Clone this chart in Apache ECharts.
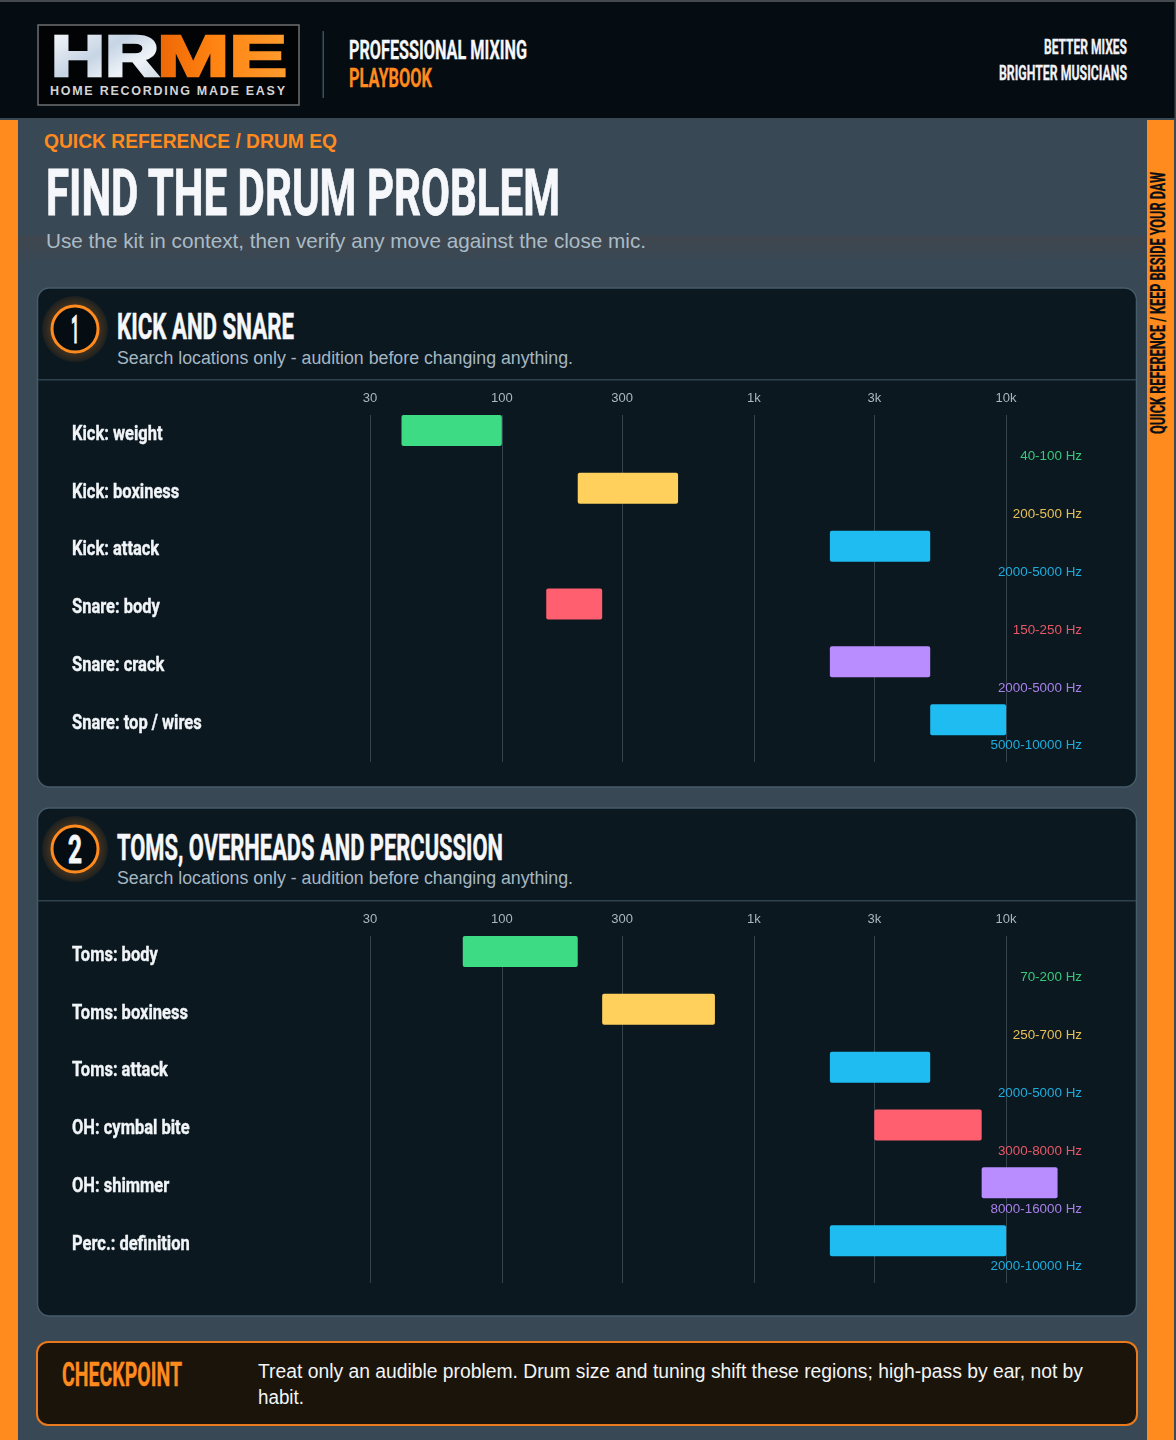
<!DOCTYPE html>
<html><head><meta charset="utf-8">
<style>
html,body{margin:0;padding:0;background:#384854;}
#page{position:relative;width:1176px;height:1440px;overflow:hidden;}
#art{position:absolute;left:0;top:0;}
#chart{position:absolute;left:0;top:0;width:1176px;height:1440px;}
.narrow{font-family:Roboto,"Liberation Sans",sans-serif;font-weight:700;}
.sans{font-family:"Liberation Sans",sans-serif;}
</style></head><body>
<div id="page">
<svg id="art" width="1176" height="1440" viewBox="0 0 1176 1440" xmlns="http://www.w3.org/2000/svg">
<defs>
<linearGradient id="band" x1="0" y1="0" x2="0" y2="1"><stop offset="0" stop-color="#40464e"/><stop offset="1" stop-color="#384854"/></linearGradient>
<linearGradient id="silver" x1="0" y1="0" x2="1" y2="1"><stop offset="0" stop-color="#ffffff"/><stop offset=".45" stop-color="#c6d4e4"/><stop offset=".7" stop-color="#eef3f8"/><stop offset="1" stop-color="#c9d3de"/></linearGradient>
<linearGradient id="fire" x1="0" y1="0" x2="1" y2="0"><stop offset="0" stop-color="#ee6606"/><stop offset=".45" stop-color="#ff8412"/><stop offset="1" stop-color="#ff9c2e"/></linearGradient>
<radialGradient id="glow"><stop offset=".65" stop-color="#ff8a1e" stop-opacity=".26"/><stop offset="1" stop-color="#ff8a1e" stop-opacity=".07"/></radialGradient>
</defs>
<rect width="1176" height="1440" fill="#384854"/>
<rect x="18" y="236" width="1129" height="26" fill="url(#band)"/>
<rect width="1176" height="118" fill="#050c12"/>
<rect width="1176" height="2" fill="#45494d"/>
<rect x="1174.500" width="1.500" height="1440" fill="#45494d"/>
<rect y="120" width="18" height="1320" fill="#ff8a1e"/>
<rect x="1147" y="120" width="27" height="1320" fill="#ff8a1e"/>

<rect x="38" y="25" width="261" height="80" fill="#020304" stroke="#6d6f71" stroke-width="1.500"/>
<text class="sans" x="51" y="76" font-size="57" font-weight="700" fill="url(#silver)" stroke="url(#silver)" stroke-width="2.500" textLength="108" lengthAdjust="spacingAndGlyphs">HR</text>
<text class="sans" x="157" y="76" font-size="57" font-weight="700" fill="url(#fire)" stroke="url(#fire)" stroke-width="2.500" textLength="130" lengthAdjust="spacingAndGlyphs">ME</text>
<text class="sans" x="50" y="95" font-size="12.500" font-weight="700" fill="#d4d4d4" textLength="235">HOME RECORDING MADE EASY</text>
<rect x="322.500" y="31" width="1.500" height="67" fill="#35505f"/>
<text class="narrow" x="349" y="59" font-size="26" fill="#f5f7fa" stroke="#f5f7fa" stroke-width=".3" textLength="178" lengthAdjust="spacingAndGlyphs">PROFESSIONAL MIXING</text>
<text class="narrow" x="349" y="87" font-size="26" fill="#ff8a1e" stroke="#ff8a1e" stroke-width=".3" textLength="83" lengthAdjust="spacingAndGlyphs">PLAYBOOK</text>
<text class="narrow" x="1044" y="54" font-size="21" fill="#f0f2f5" stroke="#f0f2f5" stroke-width=".3" textLength="83" lengthAdjust="spacingAndGlyphs">BETTER MIXES</text>
<text class="narrow" x="999" y="80" font-size="21" fill="#f0f2f5" stroke="#f0f2f5" stroke-width=".3" textLength="128" lengthAdjust="spacingAndGlyphs">BRIGHTER MUSICIANS</text>

<text class="sans" x="44" y="148" font-size="20" font-weight="700" fill="#ff8a1e" textLength="293" lengthAdjust="spacingAndGlyphs">QUICK REFERENCE / DRUM EQ</text>
<text class="narrow" x="46" y="215" font-size="64" fill="#f5f7fa" stroke="#f5f7fa" stroke-width=".8" textLength="514" lengthAdjust="spacingAndGlyphs">FIND THE DRUM PROBLEM</text>
<text class="sans" x="46" y="248" font-size="21" fill="#a8bcc8" textLength="600" lengthAdjust="spacingAndGlyphs">Use the kit in context, then verify any move against the close mic.</text>
<text class="narrow" transform="translate(1165 434) rotate(-90)" font-size="20" fill="#0a0f14" stroke="#0a0f14" stroke-width=".3" textLength="262" lengthAdjust="spacingAndGlyphs">QUICK REFERENCE / KEEP BESIDE YOUR DAW</text>

<rect x="37.500" y="288" width="1099" height="499" rx="12" fill="#0b1820" stroke="#465b69" stroke-width="1.500"/>
<rect x="38" y="379" width="1098" height="1.500" fill="#2f4250"/>
<circle cx="75" cy="329" r="33" fill="url(#glow)"/>
<circle cx="75" cy="329" r="23" fill="#050c12" stroke="#ff8a1e" stroke-width="3"/>
<text class="narrow" x="75" y="343" font-size="38" fill="#f5f7fa" stroke="#f5f7fa" stroke-width=".8" text-anchor="middle" textLength="8" lengthAdjust="spacingAndGlyphs">1</text>
<text class="narrow" x="117" y="339" font-size="36" fill="#f5f7fa" stroke="#f5f7fa" stroke-width=".5" textLength="177" lengthAdjust="spacingAndGlyphs">KICK AND SNARE</text>
<text class="sans" x="117" y="364" font-size="18" fill="#a5b6c2" textLength="456" lengthAdjust="spacingAndGlyphs">Search locations only - audition before changing anything.</text>

<rect x="37.500" y="808" width="1099" height="508" rx="12" fill="#0b1820" stroke="#465b69" stroke-width="1.500"/>
<rect x="38" y="900" width="1098" height="1.500" fill="#2f4250"/>
<circle cx="75" cy="849" r="33" fill="url(#glow)"/>
<circle cx="75" cy="849" r="23" fill="#050c12" stroke="#ff8a1e" stroke-width="3"/>
<text class="narrow" x="75" y="863" font-size="38" fill="#f5f7fa" stroke="#f5f7fa" stroke-width=".8" text-anchor="middle" textLength="14" lengthAdjust="spacingAndGlyphs">2</text>
<text class="narrow" x="117" y="860" font-size="36" fill="#f5f7fa" stroke="#f5f7fa" stroke-width=".5" textLength="386" lengthAdjust="spacingAndGlyphs">TOMS, OVERHEADS AND PERCUSSION</text>
<text class="sans" x="117" y="884" font-size="18" fill="#a5b6c2" textLength="456" lengthAdjust="spacingAndGlyphs">Search locations only - audition before changing anything.</text>

<rect x="37" y="1342" width="1100" height="83" rx="11" fill="#1a140a" stroke="#e8791c" stroke-width="2"/>
<text class="narrow" x="62" y="1386" font-size="33" fill="#ff8a1e" stroke="#ff8a1e" stroke-width=".4" textLength="120" lengthAdjust="spacingAndGlyphs">CHECKPOINT</text>
<text class="sans" x="258" y="1378" font-size="20" fill="#f2f4f6" textLength="825" lengthAdjust="spacingAndGlyphs">Treat only an audible problem. Drum size and tuning shift these regions; high-pass by ear, not by</text>
<text class="sans" x="258" y="1404" font-size="20" fill="#f2f4f6" textLength="46" lengthAdjust="spacingAndGlyphs">habit.</text>
</svg>
<div id="chart"></div>
</div>
<script src="https://cdn.jsdelivr.net/npm/echarts@6/dist/echarts.min.js"></script>
<script>
const tickValues = [30, 100, 300, 1000, 3000, 10000];
const tickLabels = ['30', '100', '300', '1k', '3k', '10k'];

const kickSnareNames = ['Kick: weight', 'Kick: boxiness', 'Kick: attack', 'Snare: body', 'Snare: crack', 'Snare: top / wires'];
const kickSnareLow = [40, 200, 2000, 150, 2000, 5000];
const kickSnareHigh = [100, 500, 5000, 250, 5000, 10000];

const tomsNames = ['Toms: body', 'Toms: boxiness', 'Toms: attack', 'OH: cymbal bite', 'OH: shimmer', 'Perc.: definition'];
const tomsLow = [70, 250, 2000, 3000, 8000, 2000];
const tomsHigh = [200, 700, 5000, 8000, 16000, 10000];

const rowColors = ['#3ddc84', '#ffd15c', '#1fbcf2', '#ff5f6e', '#b98cff', '#1fbcf2'];

const chart = echarts.init(document.getElementById('chart'), null, {renderer: 'canvas'});

function xAxisFor(gridIndex) {
  return {
    type: 'log', gridIndex, position: 'top', min: 30, max: 20000, logBase: 10,
    axisLine: {show: false},
    axisTick: {show: false, customValues: tickValues},
    minorTick: {show: false}, minorSplitLine: {show: false},
    splitLine: {show: true, lineStyle: {color: '#33444f', width: 1}},
    axisLabel: {
      show: true, customValues: tickValues, margin: 10, hideOverlap: false,
      color: '#a8b7c1', fontSize: 13, fontFamily: '"Liberation Sans", sans-serif',
      formatter: v => tickLabels[tickValues.findIndex(t => Math.abs(t - v) < 1e-6 * t)] ?? ''
    }
  };
}
function yAxisFor(gridIndex, names) {
  return {
    type: 'category', gridIndex, inverse: true, data: names,
    axisLine: {show: false}, axisTick: {show: false}, splitLine: {show: false},
    axisLabel: {show: false}
  };
}
const makeRender = names => function (params, api) {
  const lo = api.value(0), hi = api.value(1), row = api.value(2);
  const a = api.coord([lo, row]);
  const b = api.coord([hi, row]);
  const bandH = api.size([0, 1])[1];
  const top = a[1] - bandH / 2;
  const color = rowColors[row];
  const right = params.coordSys.x + params.coordSys.width;
  return {
    type: 'group',
    children: [
      {type: 'rect', shape: {x: a[0], y: top, width: b[0] - a[0], height: 31, r: 2}, style: {fill: color}},
      {type: 'text', style: {
        x: right, y: top + 41.500, text: lo + '-' + hi + ' Hz', align: 'right', verticalAlign: 'middle',
        fill: color, opacity: 0.9, fontSize: 13.400, fontFamily: '"Liberation Sans", sans-serif'
      }},
      {type: 'text', x: 72, y: top + 19.500, scaleX: 0.785, style: {
        x: 0, y: 0, text: names[row], align: 'left', verticalAlign: 'middle',
        fill: '#f2f5f8', stroke: '#f2f5f8', lineWidth: 0.4, fontSize: 21, fontWeight: 700,
        fontFamily: 'Roboto, "Liberation Sans", sans-serif'
      }}
    ]
  };
};
function seriesFor(index, low, high, names) {
  return {
    type: 'custom', xAxisIndex: index, yAxisIndex: index, clip: false,
    encode: {x: [0, 1], y: 2},
    data: low.map((v, i) => [v, high[i], i]),
    renderItem: makeRender(names), silent: true, animation: false
  };
}
chart.setOption({
  animation: false,
  backgroundColor: 'transparent',
  grid: [
    {left: 370, top: 415, width: 712, height: 347, containLabel: false},
    {left: 370, top: 936, width: 712, height: 347, containLabel: false}
  ],
  xAxis: [xAxisFor(0), xAxisFor(1)],
  yAxis: [yAxisFor(0, kickSnareNames), yAxisFor(1, tomsNames)],
  series: [seriesFor(0, kickSnareLow, kickSnareHigh, kickSnareNames), seriesFor(1, tomsLow, tomsHigh, tomsNames)]
});
</script>
</body></html>
